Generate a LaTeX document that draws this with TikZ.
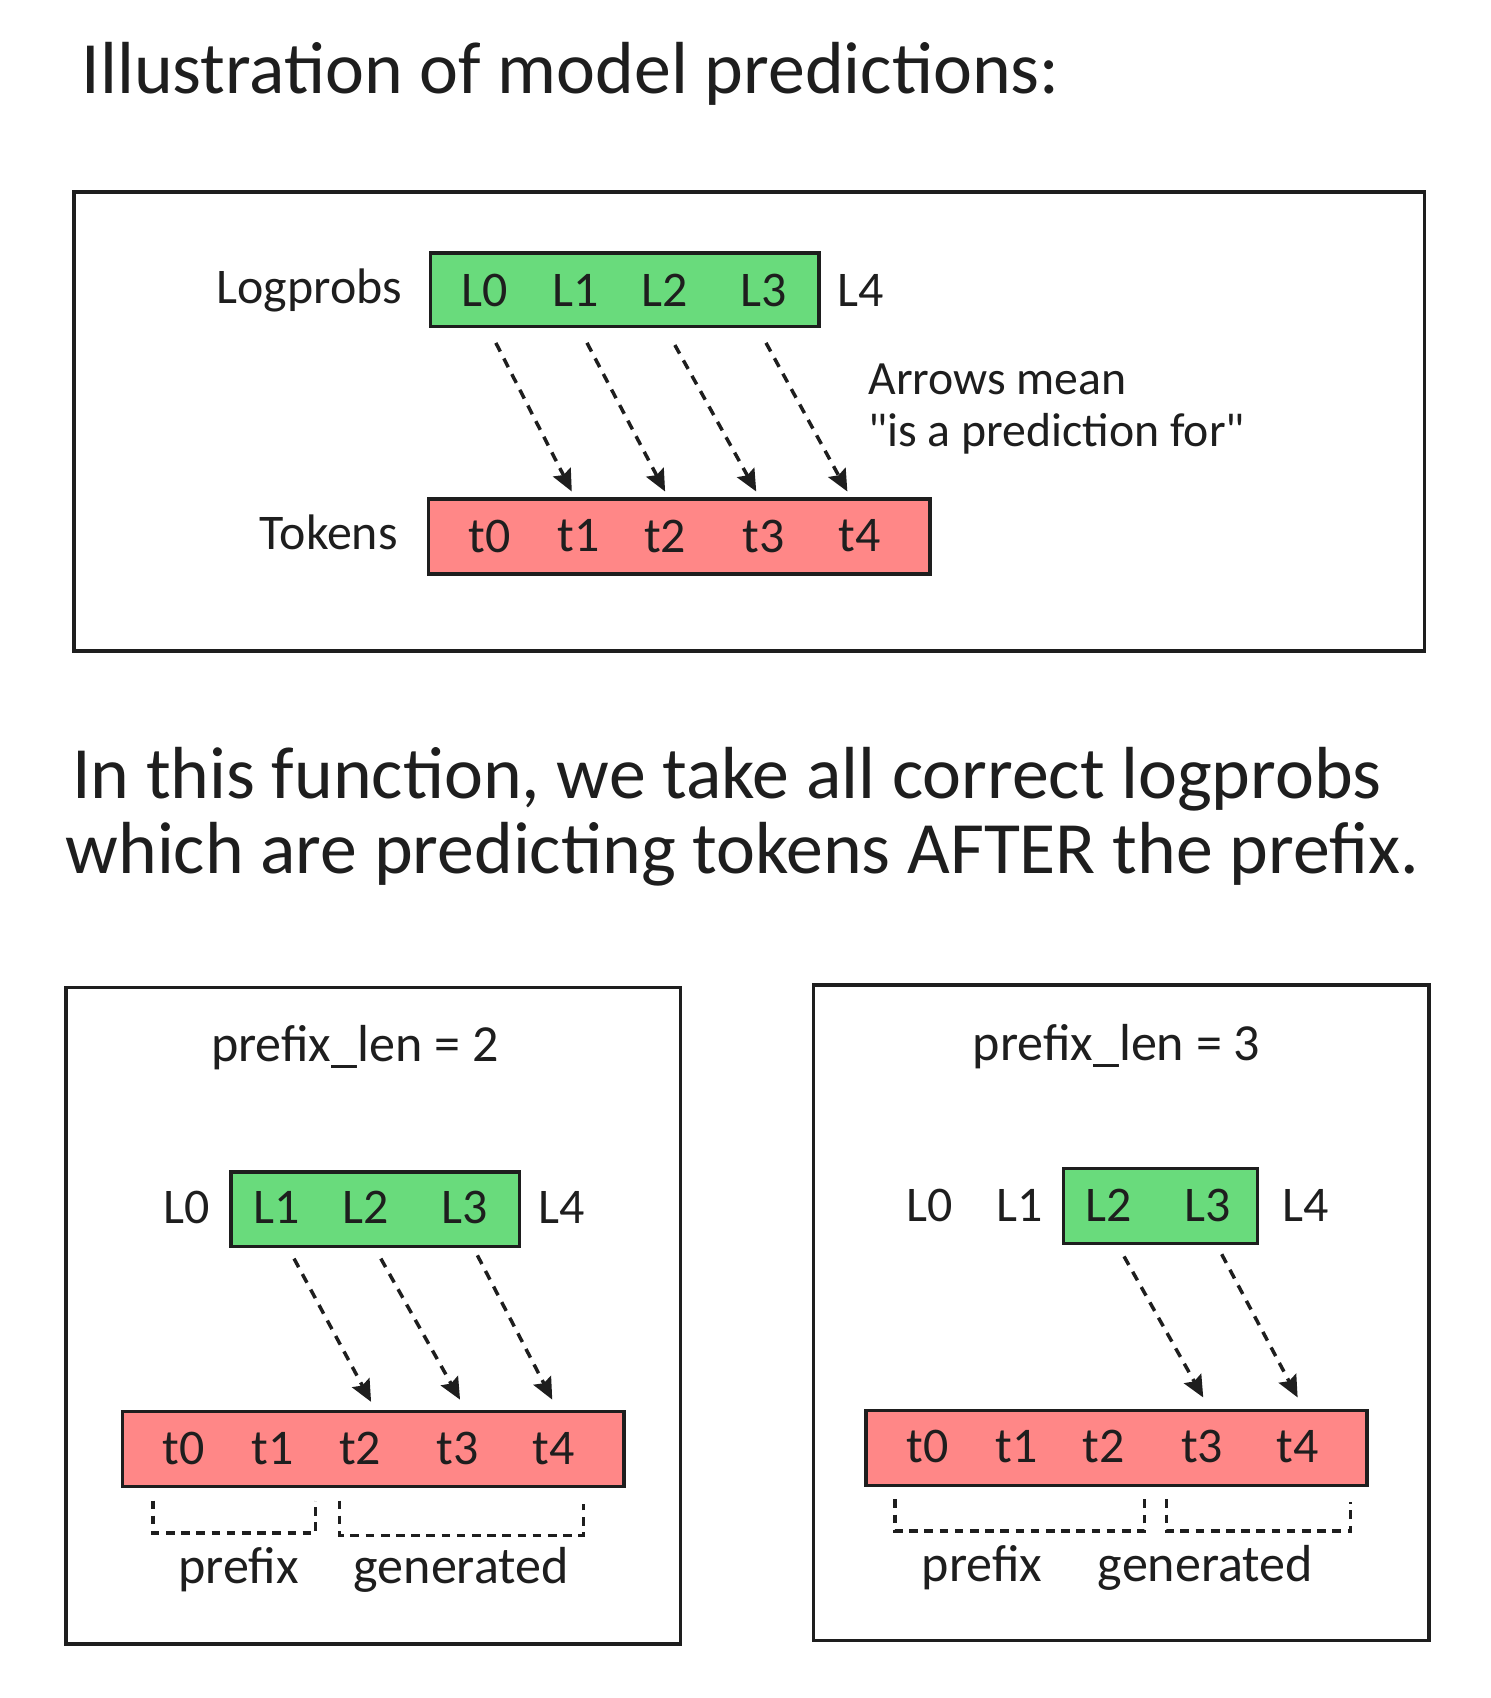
\documentclass[tikz,border=0pt]{standalone}
\usepackage{fontspec}
\setmainfont{Carlito}
\usetikzlibrary{arrows.meta}
\definecolor{ink}{HTML}{1E1E1E}
\definecolor{gfill}{HTML}{69DB7C}
\definecolor{rfill}{HTML}{FF8787}
\begin{document}
\begin{tikzpicture}[x=0.5pt,y=-0.5pt,
  frame/.style={draw=ink,line width=1.6pt},
  gbox/.style={draw=ink,fill=gfill,line width=1.6pt},
  rbox/.style={draw=ink,fill=rfill,line width=1.6pt},
  txt/.style={text=ink,inner sep=0pt,font=\fontsize{23}{27}\selectfont},
  sub/.style={text=ink,inner sep=0pt,font=\fontsize{24}{28}\selectfont},
  note/.style={text=ink,inner sep=0pt,anchor=west,font=\fontsize{22}{26}\selectfont},
  big/.style={text=ink,inner sep=0pt,anchor=west,font=\fontsize{34}{40}\selectfont},
  pred/.style={draw=ink,line width=1.6pt,dash pattern=on 4.5pt off 3.6pt,-{Stealth[length=10pt,width=9pt,inset=1.5pt]}},
  brk/.style={draw=ink,line width=1.5pt,dash pattern=on 4pt off 3pt}]
\useasboundingbox (0,0) rectangle (1374,1565);
\fill[white] (0,0) rectangle (1374,1565);

% ---------- title ----------
\node[big] (title) at (75,68) {Illustration of model predictions:};

% ---------- top panel ----------
\path[frame] (68,177) rectangle (1313,600);
\path[gbox] (397,233) rectangle (755,301);
\path[rbox] (395,460) rectangle (857,529);
\node[txt] (logp) at (285,268) {Logprobs};
\node[txt] (tok) at (303,491) {Tokens};
\node[txt] (TL0) at (447,268) {L0};
\node[txt] (TL1) at (531,268) {L1};
\node[txt] (TL2) at (613,268) {L2};
\node[txt] (TL3) at (704,268) {L3};
\node[txt] (TL4) at (793,268) {L4};
\node[txt] (Tt0) at (451,494) {t0};
\node[txt] (Tt1) at (533,494) {t1};
\node[txt] (Tt2) at (613,494) {t2};
\node[txt] (Tt3) at (704,494) {t3};
\node[txt] (Tt4) at (792,494) {t4};
\coordinate (ta1s) at (457,316); \coordinate (ta1e) at (527,453);
\coordinate (ta2s) at (541,316); \coordinate (ta2e) at (613,453);
\coordinate (ta3s) at (622,318); \coordinate (ta3e) at (697,453);
\coordinate (ta4s) at (706,316); \coordinate (ta4e) at (781,453);
\draw[pred] (ta1s) -- (ta1e);
\draw[pred] (ta2s) -- (ta2e);
\draw[pred] (ta3s) -- (ta3e);
\draw[pred] (ta4s) -- (ta4e);
\node[note] (arr1) at (800,350) {Arrows mean};
\node[note] (arr2) at (800,400) {\textquotedbl is a prediction for\textquotedbl};

% ---------- paragraph ----------
\node[big] (para1) at (66,718) {In this function, we take all correct logprobs};
\node[big] (para2) at (60,787) {which are predicting tokens AFTER the prefix.};

% ---------- bottom left panel ----------
\path[frame] (61,910) rectangle (627,1515);
\node[sub] (lt) at (327,966) {prefix\_len = 2};
\path[gbox] (213,1080) rectangle (479,1149);
\path[rbox] (113,1301) rectangle (575,1370);
\node[txt] (AL0) at (172,1113) {L0};
\node[txt] (AL1) at (255,1113) {L1};
\node[txt] (AL2) at (337,1113) {L2};
\node[txt] (AL3) at (428,1113) {L3};
\node[txt] (AL4) at (518,1113) {L4};
\node[txt] (At0) at (169,1335) {t0};
\node[txt] (At1) at (251,1335) {t1};
\node[txt] (At2) at (332,1335) {t2};
\node[txt] (At3) at (422,1335) {t3};
\node[txt] (At4) at (510,1335) {t4};
\coordinate (la1s) at (271,1160); \coordinate (la1e) at (342,1292);
\coordinate (la2s) at (351,1160); \coordinate (la2e) at (424,1290);
\coordinate (la3s) at (440,1157); \coordinate (la3e) at (509,1290);
\draw[pred] (la1s) -- (la1e);
\draw[pred] (la2s) -- (la2e);
\draw[pred] (la3s) -- (la3e);
\draw[brk] (141,1383) -- (141,1413) -- (291,1413) -- (291,1383);
\draw[brk] (313,1383) -- (313,1415) -- (538,1415) -- (538,1386);
\node[sub] (lpre) at (220,1447) {prefix};
\node[sub] (lgen) at (425,1447) {generated};

% ---------- bottom right panel ----------
\path[frame] (750,908) rectangle (1317,1512);
\node[sub] (rt) at (1029,965) {prefix\_len = 3};
\path[gbox] (980,1077) rectangle (1159,1146);
\path[rbox] (798,1300) rectangle (1260,1369);
\node[txt] (BL0) at (857,1111) {L0};
\node[txt] (BL1) at (940,1111) {L1};
\node[txt] (BL2) at (1022,1111) {L2};
\node[txt] (BL3) at (1113,1111) {L3};
\node[txt] (BL4) at (1203,1111) {L4};
\node[txt] (Bt0) at (855,1333) {t0};
\node[txt] (Bt1) at (937,1333) {t1};
\node[txt] (Bt2) at (1017,1333) {t2};
\node[txt] (Bt3) at (1108,1333) {t3};
\node[txt] (Bt4) at (1196,1333) {t4};
\coordinate (ra1s) at (1036,1158); \coordinate (ra1e) at (1109,1288);
\coordinate (ra2s) at (1126,1156); \coordinate (ra2e) at (1196,1288);
\draw[pred] (ra1s) -- (ra1e);
\draw[pred] (ra2s) -- (ra2e);
\draw[brk] (825,1382) -- (825,1411) -- (1055,1411) -- (1055,1382);
\draw[brk] (1075,1382) -- (1075,1411) -- (1245,1411) -- (1245,1384);
\node[sub] (rpre) at (905,1445) {prefix};
\node[sub] (rgen) at (1111,1445) {generated};
\end{tikzpicture}
\end{document}
